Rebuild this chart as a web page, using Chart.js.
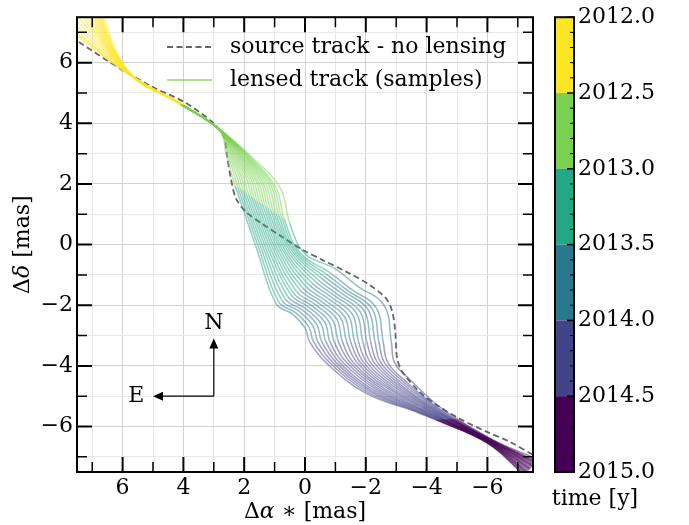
<!DOCTYPE html>
<html>
<head>
<meta charset="utf-8">
<script src="https://cdn.jsdelivr.net/npm/chart.js@4.4.1/dist/chart.umd.min.js"></script>
<style>
  html, body { margin: 0; padding: 0; background: #fff; }
  canvas { display: block; }
</style>
</head>
<body>
<canvas id="trackChart" width="689" height="525"></canvas>
<script>
// epochs shared by every lensed sample track [yr]
var epochs = [2012.0, 2012.25, 2012.5, 2012.6, 2012.75, 2012.9, 2013.0, 2013.25, 2013.5,
              2013.65, 2013.8, 2014.0, 2014.1, 2014.25, 2014.4, 2014.5, 2014.75, 2015.0];

// lensed sample tracks, [dRA*, dDec] in mas at each epoch
var track01 = [[7.9,7.2],[5.95,5.72],[4.1,4.62],[2.8,3.76],[2.6,3.0],[2.42,2.35],[2.3,1.95],[1.6,-0.1],[0.95,-1.95],[0.4,-2.3],[0.0,-2.75],[-0.15,-3.2],[-0.7,-3.9],[-2.0,-4.9],[-3.6,-5.5],[-4.3,-5.78],[-6.0,-6.55],[-7.2,-7.6]];
var track02 = [[7.85,7.25],[5.95,5.72],[4.09,4.62],[2.8,3.76],[2.55,2.99],[2.34,2.33],[2.21,1.89],[1.52,-0.11],[0.86,-1.9],[0.3,-2.25],[-0.13,-2.72],[-0.28,-3.2],[-0.82,-3.9],[-2.08,-4.88],[-3.63,-5.49],[-4.33,-5.78],[-6.01,-6.55],[-7.22,-7.58]];
var track03 = [[7.8,7.3],[5.94,5.73],[4.08,4.61],[2.79,3.76],[2.5,2.98],[2.26,2.3],[2.12,1.83],[1.44,-0.12],[0.76,-1.84],[0.19,-2.2],[-0.26,-2.68],[-0.42,-3.2],[-0.93,-3.9],[-2.15,-4.86],[-3.67,-5.48],[-4.37,-5.78],[-6.03,-6.55],[-7.25,-7.55]];
var track04 = [[7.75,7.45],[5.93,5.73],[4.07,4.61],[2.79,3.76],[2.45,2.97],[2.18,2.28],[2.03,1.77],[1.36,-0.13],[0.66,-1.78],[0.08,-2.16],[-0.39,-2.64],[-0.55,-3.2],[-1.04,-3.9],[-2.22,-4.84],[-3.7,-5.47],[-4.4,-5.78],[-6.04,-6.55],[-7.28,-7.52]];
var track05 = [[7.7,7.6],[5.93,5.73],[4.06,4.61],[2.79,3.76],[2.4,2.95],[2.1,2.25],[1.94,1.7],[1.28,-0.14],[0.56,-1.72],[-0.02,-2.11],[-0.52,-2.6],[-0.69,-3.2],[-1.15,-3.9],[-2.3,-4.82],[-3.74,-5.45],[-4.44,-5.77],[-6.06,-6.54],[-7.3,-7.5]];
var track06 = [[7.65,7.75],[5.92,5.74],[4.05,4.6],[2.78,3.76],[2.35,2.94],[2.02,2.23],[1.85,1.64],[1.2,-0.15],[0.46,-1.66],[-0.12,-2.06],[-0.65,-2.56],[-0.82,-3.2],[-1.26,-3.9],[-2.38,-4.8],[-3.77,-5.44],[-4.47,-5.77],[-6.07,-6.54],[-7.32,-7.48]];
var track07 = [[7.6,7.9],[5.92,5.74],[4.04,4.6],[2.78,3.76],[2.3,2.93],[1.93,2.2],[1.76,1.58],[1.12,-0.16],[0.37,-1.61],[-0.23,-2.02],[-0.78,-2.53],[-0.96,-3.2],[-1.38,-3.9],[-2.45,-4.78],[-3.81,-5.43],[-4.51,-5.77],[-6.09,-6.54],[-7.35,-7.45]];
var track08 = [[7.55,8.0],[5.91,5.74],[4.03,4.6],[2.78,3.76],[2.25,2.91],[1.85,2.17],[1.67,1.51],[1.04,-0.17],[0.27,-1.55],[-0.33,-1.97],[-0.91,-2.49],[-1.1,-3.2],[-1.49,-3.9],[-2.52,-4.76],[-3.84,-5.42],[-4.54,-5.77],[-6.1,-6.54],[-7.38,-7.42]];
var track09 = [[7.5,8.1],[5.91,5.74],[4.02,4.59],[2.78,3.76],[2.2,2.9],[1.77,2.15],[1.58,1.45],[0.96,-0.18],[0.17,-1.49],[-0.44,-1.92],[-1.04,-2.45],[-1.23,-3.2],[-1.6,-3.9],[-2.6,-4.74],[-3.88,-5.4],[-4.58,-5.77],[-6.12,-6.53],[-7.4,-7.4]];
var track10 = [[7.45,8.15],[5.9,5.75],[4.01,4.59],[2.77,3.76],[2.15,2.89],[1.69,2.12],[1.49,1.39],[0.88,-0.19],[0.07,-1.44],[-0.55,-1.88],[-1.17,-2.42],[-1.37,-3.2],[-1.72,-3.9],[-2.68,-4.72],[-3.92,-5.39],[-4.62,-5.77],[-6.13,-6.53],[-7.42,-7.38]];
var track11 = [[7.4,8.2],[5.9,5.75],[4.0,4.59],[2.77,3.76],[2.1,2.88],[1.61,2.1],[1.4,1.33],[0.8,-0.2],[-0.03,-1.38],[-0.65,-1.83],[-1.3,-2.38],[-1.5,-3.2],[-1.83,-3.9],[-2.75,-4.7],[-3.95,-5.38],[-4.65,-5.77],[-6.15,-6.53],[-7.45,-7.35]];
var track12 = [[7.35,8.25],[5.89,5.75],[3.99,4.58],[2.77,3.76],[2.05,2.86],[1.53,2.07],[1.31,1.27],[0.72,-0.21],[-0.13,-1.32],[-0.76,-1.78],[-1.43,-2.34],[-1.63,-3.2],[-1.94,-3.9],[-2.82,-4.68],[-3.98,-5.36],[-4.68,-5.76],[-6.16,-6.52],[-7.48,-7.32]];
var track13 = [[7.3,8.3],[5.89,5.76],[3.98,4.58],[2.76,3.76],[2.0,2.85],[1.45,2.05],[1.22,1.2],[0.64,-0.22],[-0.22,-1.26],[-0.86,-1.73],[-1.56,-2.3],[-1.76,-3.2],[-2.05,-3.9],[-2.9,-4.66],[-4.02,-5.35],[-4.72,-5.76],[-6.18,-6.52],[-7.5,-7.3]];
var track14 = [[7.25,8.35],[5.88,5.76],[3.97,4.57],[2.76,3.75],[1.95,2.84],[1.37,2.02],[1.13,1.14],[0.56,-0.23],[-0.32,-1.2],[-0.97,-1.68],[-1.69,-2.26],[-1.9,-3.2],[-2.16,-3.9],[-2.98,-4.64],[-4.05,-5.34],[-4.75,-5.76],[-6.2,-6.52],[-7.52,-7.28]];
var track15 = [[7.2,8.4],[5.88,5.76],[3.96,4.57],[2.76,3.75],[1.9,2.83],[1.29,2.0],[1.04,1.08],[0.48,-0.24],[-0.42,-1.15],[-1.07,-1.64],[-1.82,-2.23],[-2.03,-3.2],[-2.28,-3.9],[-3.05,-4.62],[-4.09,-5.33],[-4.79,-5.76],[-6.21,-6.52],[-7.55,-7.25]];
var track16 = [[7.15,8.4],[5.87,5.76],[3.95,4.56],[2.75,3.75],[1.85,2.81],[1.2,1.97],[0.95,1.01],[0.4,-0.25],[-0.52,-1.09],[-1.18,-1.59],[-1.95,-2.19],[-2.16,-3.2],[-2.39,-3.9],[-3.12,-4.6],[-4.12,-5.32],[-4.82,-5.76],[-6.22,-6.52],[-7.58,-7.22]];
var track17 = [[7.1,8.4],[5.87,5.77],[3.94,4.56],[2.75,3.75],[1.8,2.8],[1.12,1.95],[0.86,0.95],[0.32,-0.26],[-0.61,-1.03],[-1.28,-1.54],[-2.08,-2.15],[-2.3,-3.2],[-2.5,-3.9],[-3.2,-4.58],[-4.16,-5.3],[-4.86,-5.76],[-6.24,-6.51],[-7.6,-7.2]];
var track18 = [[7.05,8.45],[5.86,5.77],[3.93,4.56],[2.75,3.75],[1.75,2.79],[1.04,1.92],[0.77,0.89],[0.24,-0.27],[-0.71,-0.98],[-1.38,-1.5],[-2.21,-2.12],[-2.43,-3.2],[-2.62,-3.9],[-3.28,-4.56],[-4.2,-5.29],[-4.9,-5.76],[-6.26,-6.51],[-7.62,-7.18]];
var track19 = [[7.0,8.5],[5.86,5.77],[3.92,4.56],[2.75,3.75],[1.7,2.78],[0.96,1.9],[0.68,0.83],[0.16,-0.28],[-0.81,-0.92],[-1.49,-1.45],[-2.34,-2.08],[-2.57,-3.2],[-2.73,-3.9],[-3.35,-4.54],[-4.23,-5.28],[-4.93,-5.75],[-6.27,-6.51],[-7.65,-7.15]];
var track20 = [[6.9,8.5],[5.85,5.78],[3.9,4.55],[2.74,3.75],[1.6,2.75],[0.8,1.85],[0.5,0.7],[0.0,-0.3],[-1.0,-0.8],[-1.7,-1.35],[-2.6,-2.0],[-2.84,-3.2],[-2.95,-3.9],[-3.5,-4.5],[-4.3,-5.25],[-5.0,-5.75],[-6.3,-6.5],[-7.7,-7.1]];
var lensedTracks = [track01, track02, track03, track04, track05, track06, track07, track08, track09, track10,
                    track11, track12, track13, track14, track15, track16, track17, track18, track19, track20];

// unlensed source track
var sourceX = [7.7, 7.45, 6.03, 5.04, 3.99, 3.07, 2.67, 2.57, 2.44, 2.27, 1.95, 1.42, 0.76, 0.1, -0.6, -1.35, -2.11, -2.67, -2.87, -2.97, -3.03, -3.2, -3.76, -4.32, -5.08, -5.97, -6.73, -7.48, -7.7];
var sourceY = [6.85, 6.69, 5.77, 5.21, 4.71, 4.06, 3.56, 2.97, 2.18, 1.52, 1.09, 0.69, 0.26, -0.16, -0.52, -0.89, -1.32, -1.78, -2.21, -2.87, -3.76, -4.19, -4.85, -5.28, -5.74, -6.17, -6.5, -6.92, -7.02];

var gridSteps = [-7, -6, -5, -4, -3, -2, -1, 0, 1, 2, 3, 4, 5, 6, 7];
var axisLabels = [-6, -4, -2, 0, 2, 4, 6];
var cbarTicks = [2012.0, 2012.5, 2013.0, 2013.5, 2014.0, 2014.5, 2015.0];

// viridis, 6 bins, 2012.0 first
var binColors = ['#fde725', '#7ad151', '#22a884', '#2a788e', '#414487', '#440154'];
var SERIF = '"DejaVu Serif", "Liberation Serif", serif';
var TRACK_ALPHA = 0.5;

function hexA(hex, a) {
	var n = parseInt(hex.slice(1), 16);
	return 'rgba(' + (n >> 16) + ',' + ((n >> 8) & 255) + ',' + (n & 255) + ',' + a + ')';
}

function binOf(t) {
	return Math.max(0, Math.min(5, Math.floor((t - 2012.0) / 0.5 + 1e-6)));
}

function fmt(v) {
	return v < 0 ? '\u2212' + Math.abs(v) : String(v);
}

var datasets = [];
lensedTracks.forEach(function(track) {
	datasets.push({
		data: track.map(function(p) { return {x: p[0], y: p[1]}; }),
		showLine: true,
		pointRadius: 0,
		borderWidth: 1.5,
		tension: 0.4,
		clip: 0,
		borderColor: hexA(binColors[0], TRACK_ALPHA),
		segment: {
			borderColor: function(ctx) {
				return hexA(binColors[binOf(epochs[ctx.p0DataIndex])], TRACK_ALPHA);
			}
		}
	});
});
datasets.push({
	data: sourceX.map(function(x, i) { return {x: x, y: sourceY[i]}; }),
	showLine: true,
	pointRadius: 0,
	borderWidth: 1.8,
	borderDash: [6, 3.5],
	borderColor: '#666666',
	tension: 0.3,
	clip: 0
});

// draws frame, inward ticks, legend, compass, colorbar and axis titles
var decorPlugin = {
	id: 'decor',
	afterDraw: function(chart) {
		var ctx = chart.ctx;
		var a = chart.chartArea;
		var xs = chart.scales.x, ys = chart.scales.y;
		ctx.save();

		// inward ticks on all four sides
		ctx.strokeStyle = '#000';
		gridSteps.forEach(function(v) {
			var major = v % 2 === 0;
			var len = major ? 15 : 10;
			ctx.lineWidth = major ? 2 : 1.5;
			var px = xs.getPixelForValue(v), py = ys.getPixelForValue(v);
			ctx.beginPath();
			ctx.moveTo(px, a.bottom); ctx.lineTo(px, a.bottom - len);
			ctx.moveTo(px, a.top); ctx.lineTo(px, a.top + len);
			ctx.moveTo(a.left, py); ctx.lineTo(a.left + len, py);
			ctx.moveTo(a.right, py); ctx.lineTo(a.right - len, py);
			ctx.stroke();
		});
		ctx.lineWidth = 2;
		ctx.strokeRect(a.left, a.top, a.right - a.left, a.bottom - a.top);

		// legend
		ctx.font = '22px ' + SERIF;
		ctx.fillStyle = '#000';
		ctx.textAlign = 'left';
		ctx.textBaseline = 'middle';
		ctx.lineWidth = 1.8;
		ctx.strokeStyle = '#666666';
		ctx.setLineDash([6, 3.5]);
		ctx.beginPath(); ctx.moveTo(167, 47); ctx.lineTo(212, 47); ctx.stroke();
		ctx.setLineDash([]);
		ctx.strokeStyle = hexA(binColors[1], 0.85);
		ctx.lineWidth = 1.5;
		ctx.beginPath(); ctx.moveTo(167, 80); ctx.lineTo(212, 80); ctx.stroke();
		ctx.fillText('source track - no lensing', 230, 47);
		ctx.fillText('lensed track (samples)', 230, 80);

		// compass
		var ox = xs.getPixelForValue(3.0), oy = ys.getPixelForValue(-5.0);
		var ny = ys.getPixelForValue(-3.1), ex = xs.getPixelForValue(5.0);
		ctx.strokeStyle = '#000';
		ctx.lineWidth = 1.2;
		ctx.beginPath();
		ctx.moveTo(ox, oy); ctx.lineTo(ox, ny + 8);
		ctx.moveTo(ox, oy); ctx.lineTo(ex + 8, oy);
		ctx.stroke();
		ctx.beginPath();
		ctx.moveTo(ox, ny); ctx.lineTo(ox - 4.5, ny + 10); ctx.lineTo(ox + 4.5, ny + 10); ctx.closePath();
		ctx.moveTo(ex, oy); ctx.lineTo(ex + 10, oy - 4.5); ctx.lineTo(ex + 10, oy + 4.5); ctx.closePath();
		ctx.fill();
		ctx.textAlign = 'center';
		ctx.fillText('N', ox, ys.getPixelForValue(-2.6));
		ctx.fillText('E', xs.getPixelForValue(5.55), oy);

		// colorbar
		var cx0 = 555, cx1 = 574;
		var tTop = cbarTicks[0], tBot = cbarTicks[cbarTicks.length - 1];
		var cy = function(t) { return a.top + (t - tTop) / (tBot - tTop) * (a.bottom - a.top); };
		for (var b = 0; b < 6; b++) {
			ctx.fillStyle = binColors[b];
			ctx.fillRect(cx0, cy(cbarTicks[b]), cx1 - cx0, cy(cbarTicks[b + 1]) - cy(cbarTicks[b]));
		}
		ctx.strokeStyle = '#000';
		ctx.lineWidth = 1;
		for (var k = 1; k < 30; k++) {
			if (k % 5 === 0) continue;
			var ty = cy(tTop + k * 0.1);
			ctx.beginPath(); ctx.moveTo(cx1, ty); ctx.lineTo(cx1 - 4, ty); ctx.stroke();
		}
		ctx.lineWidth = 1.5;
		cbarTicks.forEach(function(t) {
			ctx.beginPath(); ctx.moveTo(cx1, cy(t)); ctx.lineTo(cx1 - 7, cy(t)); ctx.stroke();
		});
		ctx.lineWidth = 2;
		ctx.strokeRect(cx0, a.top, cx1 - cx0, a.bottom - a.top);
		ctx.fillStyle = '#000';
		ctx.textAlign = 'left';
		cbarTicks.forEach(function(t) {
			ctx.fillText(t.toFixed(1), 578, cy(t));
		});
		ctx.textAlign = 'center';
		ctx.fillText('time [y]', 595, 499);

		// axis titles with italic greek letters
		function mixed(parts, x, y) {
			var w = 0;
			parts.forEach(function(p) { ctx.font = p[1] + '22px ' + SERIF; w += ctx.measureText(p[0]).width; });
			var cur = x - w / 2;
			ctx.textAlign = 'left';
			parts.forEach(function(p) {
				ctx.font = p[1] + '22px ' + SERIF;
				ctx.fillText(p[0], cur, y);
				cur += ctx.measureText(p[0]).width;
			});
		}
		mixed([['\u0394', ''], ['\u03b1', 'italic '], [' \u2217 [mas]', '']], (a.left + a.right) / 2, 512);
		ctx.save();
		ctx.translate(23, (a.top + a.bottom) / 2);
		ctx.rotate(-Math.PI / 2);
		mixed([['\u0394', ''], ['\u03b4', 'italic '], [' [mas]', '']], 0, 0);
		ctx.restore();

		ctx.restore();
	}
};

function integerTicks(scale) {
	scale.ticks = gridSteps.map(function(v) { return {value: v}; });
}

var tickStyle = {
	autoSkip: false,
	maxRotation: 0,
	color: '#000',
	font: {family: SERIF, size: 22},
	callback: function(v) { return axisLabels.indexOf(v) >= 0 ? fmt(v) : ''; }
};

var gridStyle = {
	drawTicks: false,
	lineWidth: 1,
	color: function(ctx) {
		return ctx.tick && ctx.tick.value % 2 === 0 ? '#d2d2d2' : '#e8e8e8';
	}
};

new Chart(document.getElementById('trackChart').getContext('2d'), {
	type: 'scatter',
	data: {datasets: datasets},
	options: {
		responsive: false,
		animation: false,
		layout: {padding: {left: 0, right: 156, top: 15, bottom: 0}},
		plugins: {
			legend: {display: false},
			tooltip: {enabled: false}
		},
		scales: {
			x: {
				type: 'linear',
				reverse: true,
				min: -7.5,
				max: 7.5,
				border: {display: false},
				grid: gridStyle,
				ticks: Object.assign({}, tickStyle, {padding: 3}),
				afterBuildTicks: integerTicks,
				afterFit: function(scale) { scale.height = 53; }
			},
			y: {
				type: 'linear',
				min: -7.5,
				max: 7.5,
				border: {display: false},
				grid: gridStyle,
				ticks: Object.assign({}, tickStyle, {padding: 4}),
				afterBuildTicks: integerTicks,
				afterFit: function(scale) { scale.width = 77; }
			}
		}
	},
	plugins: [decorPlugin]
});
</script>
</body>
</html>
